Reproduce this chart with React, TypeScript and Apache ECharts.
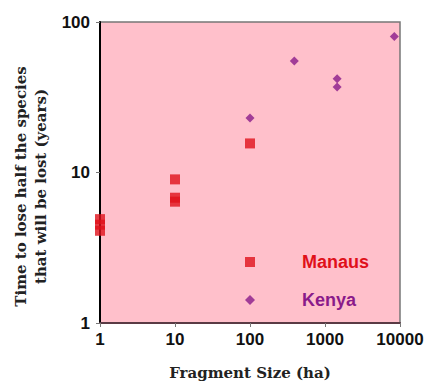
import React, { useEffect, useRef } from "react";
import * as echarts from "echarts";

const manausX = [1, 1, 1, 10, 10, 10, 100];
const manausY = [4.9, 4.5, 4.1, 9.0, 6.8, 6.4, 15.6];
const kenyaX = [100, 390, 1450, 1450, 8400];
const kenyaY = [23, 55, 42, 37, 80];

const xTitle = "Fragment Size (ha)";
const yTitle = "Time to lose half the species\nthat will be lost (years)";

export default function App() {
  const ref = useRef<HTMLDivElement>(null);
  useEffect(() => {
    const chart = echarts.init(ref.current!, null, { renderer: "svg" });
    const tickFont = {
      fontFamily: "Liberation Sans, Arial, sans-serif",
      fontWeight: "bold" as const,
      fontSize: 17,
      color: "#111",
    };
    const titleFont = {
      fontFamily: "DejaVu Serif, serif",
      fontWeight: "bold" as const,
      fontSize: 15,
      color: "#222",
      lineHeight: 20,
    };
    chart.setOption({
      animation: false,
      backgroundColor: "#fff",
      grid: {
        left: 100,
        right: 28,
        top: 22,
        bottom: 60,
        outerBoundsMode: "none",
        containLabel: false,
        show: true,
        backgroundColor: "#ffc0cb",
        borderColor: "#777",
        borderWidth: 1.5,
      },
      legend: {
        orient: "vertical",
        left: 240,
        top: 248,
        itemWidth: 10,
        itemHeight: 10,
        itemGap: 20,
        data: [
          { name: "Manaus", icon: "rect", textStyle: { color: "#e0101a" } },
          { name: "Kenya", icon: "diamond", textStyle: { color: "#8a1a8a" } },
        ],
        textStyle: {
          fontFamily: "Liberation Sans, Arial, sans-serif",
          fontWeight: "bold",
          fontSize: 18,
          lineHeight: 18,
          padding: [0, 0, 0, 42],
        },
      },
      xAxis: {
        type: "log",
        logBase: 10,
        min: 1,
        max: 10000,
        name: xTitle,
        nameLocation: "middle",
        nameGap: 40,
        nameTextStyle: titleFont,
        axisLine: { show: true, lineStyle: { color: "#5a3a44", width: 2 } },
        axisTick: { show: true, length: 4, lineStyle: { color: "#777" } },
        splitLine: { show: false },
        minorTick: { show: false },
        axisLabel: {
          ...tickFont,
          margin: 8,
          formatter: (v: number) => String(Math.round(v)),
        },
      },
      yAxis: {
        type: "log",
        logBase: 10,
        min: 1,
        max: 100,
        name: yTitle,
        nameLocation: "middle",
        nameRotate: 90,
        nameGap: 39,
        nameTextStyle: { ...titleFont, padding: [0, 28, 0, 0] },
        axisLine: { show: true, lineStyle: { color: "#000", width: 2 } },
        axisTick: { show: true, length: 4, lineStyle: { color: "#777" } },
        splitLine: { show: false },
        axisLabel: {
          ...tickFont,
          margin: 10,
          formatter: (v: number) => String(Math.round(v)),
        },
      },
      series: [
        {
          name: "Manaus",
          type: "scatter",
          symbol: "rect",
          symbolSize: 10,
          itemStyle: { color: "#e0101a" },
          data: manausX.map((x, i) => [x, manausY[i]]),
        },
        {
          name: "Kenya",
          type: "scatter",
          symbol: "diamond",
          symbolSize: 9,
          itemStyle: { color: "#8a1a8a" },
          data: kenyaX.map((x, i) => [x, kenyaY[i]]),
        },
      ],
    });
    return () => chart.dispose();
  }, []);
  return <div ref={ref} style={{ width: 428, height: 383, position: "absolute", left: 0, top: 0 }} />;
}
